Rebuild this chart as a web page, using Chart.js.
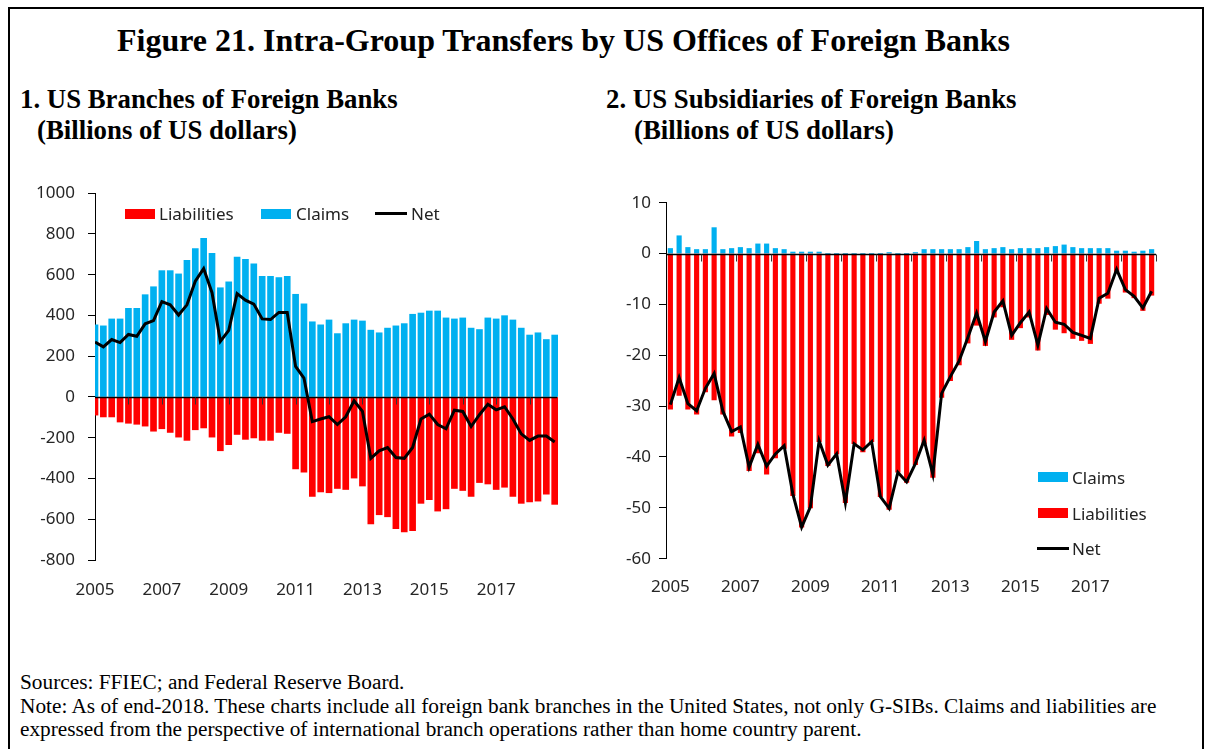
<!DOCTYPE html>
<html>
<head>
<meta charset="utf-8">
<script src="https://cdn.jsdelivr.net/npm/chart.js@4.4.1/dist/chart.umd.min.js"></script>
<style>
    body { margin: 0; width: 1205px; height: 749px; background: #fff; position: relative; overflow: hidden; }
    .frame { position: absolute; left: 8px; top: 7px; width: 1196px; height: 780px; border: 2px solid #000; box-sizing: border-box; }
    .serif { position: absolute; font-family: "Liberation Serif", "Times New Roman", serif; color: #000; white-space: nowrap; line-height: 1; }
    #title { left: 117px; top: 24px; font-size: 32px; font-weight: bold; }
    .sub { font-size: 26.8px; font-weight: bold; }
    .foot { font-size: 21.3px; left: 20px; }
    canvas { position: absolute; }
    .lg { position: absolute; font-family: "Noto Sans", sans-serif; font-size: 17px; line-height: 1; color: #222; white-space: nowrap; }
    .sw { position: absolute; }
</style>
</head>
<body>
<div class="frame"></div>
<div id="title" class="serif">Figure 21. Intra-Group Transfers by US Offices of Foreign Banks</div>
<div class="serif sub" style="left:20px; top:85.5px;">1. US Branches of Foreign Banks</div>
<div class="serif sub" style="left:37px; top:116.5px;">(Billions of US dollars)</div>
<div class="serif sub" style="left:606px; top:85.5px;">2. US Subsidiaries of Foreign Banks</div>
<div class="serif sub" style="left:634px; top:116.5px;">(Billions of US dollars)</div>

<canvas id="branches" width="565" height="430" style="left:15px; top:170px;"></canvas>
<canvas id="subsidiaries" width="600" height="430" style="left:590px; top:170px;"></canvas>

<div id="legends"></div>

<div class="serif foot" style="top:672px;">Sources: FFIEC; and Federal Reserve Board.</div>
<div class="serif foot" style="top:696px;">Note: As of end-2018. These charts include all foreign bank branches in the United States, not only G-SIBs. Claims and liabilities are</div>
<div class="serif foot" style="top:719px;">expressed from the perspective of international branch operations rather than home country parent.</div>

<script>
/* DATA: quarterly, 2005Q1 - 2018Q4 */
const years = [2005, 2006, 2007, 2008, 2009, 2010, 2011, 2012, 2013, 2014, 2015, 2016, 2017, 2018];
const quarters = years.flatMap(y => [y, y + 0.25, y + 0.5, y + 0.75]);
const yearLabels = [2005, 2007, 2009, 2011, 2013, 2015, 2017];

// 1. US branches (billions of US dollars)
const claimsBranches = [354, 349, 383, 383, 435, 435, 502, 541, 620, 620, 604, 671, 728, 778, 705, 536,
    565, 687, 676, 654, 592, 592, 586, 592, 504, 457, 369, 354, 378, 311, 360, 378,
    373, 328, 315, 338, 349, 360, 406, 412, 422, 422, 388, 383, 388, 338,
    331, 388, 383, 399, 378, 338, 304, 315, 282, 304];
const liabBranches = [-89, -98, -98, -123, -129, -134, -143, -168, -156, -174, -197, -213, -161, -152, -197, -264,
    -234, -184, -208, -201, -213, -213, -174, -179, -353, -369, -488, -466, -470, -449, -454, -398,
    -437, -623, -578, -588, -646, -662, -656, -522, -504, -560, -549, -449, -459, -488,
    -420, -427, -454, -443, -488, -522, -515, -511, -477, -527];
const netBranches = [270, 246, 282, 267, 307, 298, 359, 375, 468, 452, 402, 452, 568, 630, 512, 273,
    327, 507, 475, 456, 383, 380, 415, 415, 150, 93, -121, -108, -97, -135, -97, -19,
    -71, -301, -264, -248, -297, -301, -248, -108, -84, -135, -156, -65, -71, -145,
    -87, -36, -63, -48, -108, -181, -213, -192, -192, -221];

// 2. US subsidiaries (billions of US dollars)
const claimsSubs = [1.0, 3.5, 1.2, 0.8, 0.8, 5.1, 0.8, 1.0, 1.2, 1.0, 1.9, 1.9, 1.0, 0.8, 0.3, 0.3,
    0.3, 0.3, 0, 0, 0, 0, 0, 0, 0, 0.2, 0, 0, 0.2, 0.8, 0.8, 0.8,
    0.8, 0.8, 1.2, 2.4, 0.8, 1.0, 1.2, 0.8, 1.0, 1.0, 1.0, 1.2, 1.4, 1.7,
    1.2, 1.0, 1.0, 1.0, 1.0, 0.5, 0.5, 0.3, 0.5, 0.8];
const liabSubs = [-30.6, -27.9, -30.6, -31.6, -27.2, -28.8, -31.6, -35.9, -35.2, -42.7, -39.2, -43.4, -40.2, -38.3, -47.6, -53.8,
    -50.0, -37.0, -41.7, -39.4, -49.0, -37.4, -39.0, -37.0, -47.8, -50.3, -43.0, -45.0, -41.5, -37.5, -44.0, -28.3,
    -25.0, -21.9, -17.6, -14.1, -18.1, -12.5, -10.5, -16.9, -14.6, -12.5, -19.0, -12.0, -14.9, -15.6,
    -16.7, -17.1, -17.7, -9.8, -8.8, -3.6, -7.6, -8.7, -11.2, -8.2];
const netSubs = [-29.7, -24.4, -29.5, -30.9, -26.5, -23.6, -31.0, -35.0, -34.1, -42.0, -37.5, -41.8, -39.4, -37.8, -47.3, -53.8,
    -49.8, -36.8, -41.6, -39.4, -49.0, -37.4, -38.6, -37.0, -47.8, -50.1, -43.0, -44.9, -41.3, -36.7, -43.4, -27.5,
    -24.2, -21.1, -16.5, -11.7, -17.3, -11.5, -9.3, -16.1, -13.6, -11.5, -18.0, -10.8, -13.5, -13.9,
    -15.5, -16.1, -16.7, -8.8, -7.8, -3.1, -7.1, -8.4, -10.7, -7.4];

const BLUE = "#00B0F0";
const RED = "#FF0000";
const TEXT = "#262626";
const tickFont = { family: "Noto Sans", size: 17 };

/* zero line with small year marks, drawn under the Net line */
const zeroAxis = {
    id: "zeroAxis",
    beforeDatasetDraw(chart, args, opts) {
        if (args.meta.type !== "line") return;
        const { ctx, chartArea, scales } = chart;
        const y0 = Math.round(scales.y.getPixelForValue(0)) + 0.5;
        ctx.save();
        ctx.strokeStyle = "#000";
        ctx.lineWidth = 1.5;
        ctx.beginPath();
        ctx.moveTo(chartArea.left, y0);
        ctx.lineTo(chartArea.right, y0);
        ctx.stroke();
        ctx.lineWidth = 1;
        ctx.strokeStyle = "#333";
        opts.marks.forEach(v => {
            const x = Math.round(scales.x.getPixelForValue(v)) + 0.5;
            ctx.beginPath();
            ctx.moveTo(x, y0);
            ctx.lineTo(x, y0 + 7);
            ctx.stroke();
        });
        ctx.restore();
    }
};

function buildChart(id, c) {

    const barClip = { left: 0, right: false, top: false, bottom: false };

    return new Chart(document.getElementById(id), {
        data: {
            labels: quarters,
            datasets: [
                {
                    type: "bar", label: "Claims", data: c.claims,
                    backgroundColor: BLUE, grouped: false, barThickness: c.barWidth,
                    order: 1, clip: barClip
                },
                {
                    type: "bar", label: "Liabilities", data: c.liab,
                    backgroundColor: RED, grouped: false, barThickness: c.barWidth,
                    order: 1, clip: barClip
                },
                {
                    type: "line", label: "Net", data: c.net,
                    borderColor: "#000", borderWidth: 3, pointRadius: 0,
                    tension: 0, order: 0
                }
            ]
        },
        options: {
            responsive: false,
            animation: false,
            layout: { padding: c.padding },
            plugins: {
                legend: { display: false },
                tooltip: { enabled: false },
                zeroAxis: { marks: c.marks }
            },
            scales: {
                x: {
                    type: "linear",
                    offset: false,
                    min: c.xMin,
                    max: c.xMax,
                    afterBuildTicks: s => { s.ticks = yearLabels.map(v => ({ value: v })); },
                    afterFit: s => { s.height = c.xHeight; },
                    grid: { display: false, drawTicks: false },
                    border: { display: false },
                    ticks: {
                        padding: c.xPad, color: TEXT, font: tickFont,
                        autoSkip: false, maxRotation: 0,
                        callback: v => String(v)
                    }
                },
                y: {
                    min: c.yMin,
                    max: c.yMax,
                    afterFit: s => { s.width = c.yWidth; },
                    grid: { drawOnChartArea: false, tickLength: 7, color: "#000", tickColor: "#000" },
                    border: { color: "#000", width: 1 },
                    ticks: {
                        stepSize: c.yStep, padding: c.yPad, color: TEXT, font: tickFont,
                        callback: v => String(v)
                    }
                }
            }
        },
        plugins: [zeroAxis]
    });
}

/* 1. BRANCHES */
buildChart("branches", {
    claims: claimsBranches, liab: liabBranches, net: netBranches,
    barWidth: 6,
    xMin: 2005, xMax: 2018.825,
    marks: years.slice(1),
    yMin: -800, yMax: 1000, yStep: 200,
    yWidth: 80, yPad: 13, xHeight: 40, xPad: 20,
    padding: { top: 17.3, right: 22.8, bottom: 0, left: 0 }
});

/* 2. SUBSIDIARIES */
buildChart("subsidiaries", {
    claims: claimsSubs, liab: liabSubs, net: netSubs,
    barWidth: 4.5,
    xMin: 2004.875, xMax: 2018.875,
    marks: years.map(y => y + 0.875),
    yMin: -60, yMax: 10, yStep: 10,
    yWidth: 76, yPad: 8, xHeight: 41.3, xPad: 18,
    padding: { top: 32.7, right: 34, bottom: 0, left: 0 }
});

/* LEGENDS (html) */
const legendItems = [
    { label: "Liabilities", kind: "box", color: RED, x: 125, y: 209, tx: 159, ty: 205 },
    { label: "Claims", kind: "box", color: BLUE, x: 261, y: 209, tx: 296, ty: 205 },
    { label: "Net", kind: "line", color: "#000", x: 375, y: 212, tx: 411, ty: 205 },
    { label: "Claims", kind: "box", color: BLUE, x: 1038, y: 472, tx: 1072, ty: 469 },
    { label: "Liabilities", kind: "box", color: RED, x: 1038, y: 508, tx: 1072, ty: 505 },
    { label: "Net", kind: "line", color: "#000", x: 1037, y: 547, tx: 1072, ty: 540 }
];

const legends = document.getElementById("legends");

legendItems.forEach(item => {

    const sw = document.createElement("div");
    sw.className = "sw";
    sw.style.left = item.x + "px";
    sw.style.top = item.y + "px";
    sw.style.width = (item.kind === "box" ? 30 : 32) + "px";
    sw.style.height = (item.kind === "box" ? 10 : 3) + "px";
    sw.style.background = item.color;
    legends.appendChild(sw);

    const tx = document.createElement("div");
    tx.className = "lg";
    tx.style.left = item.tx + "px";
    tx.style.top = item.ty + "px";
    tx.textContent = item.label;
    legends.appendChild(tx);
});
</script>
</body>
</html>
